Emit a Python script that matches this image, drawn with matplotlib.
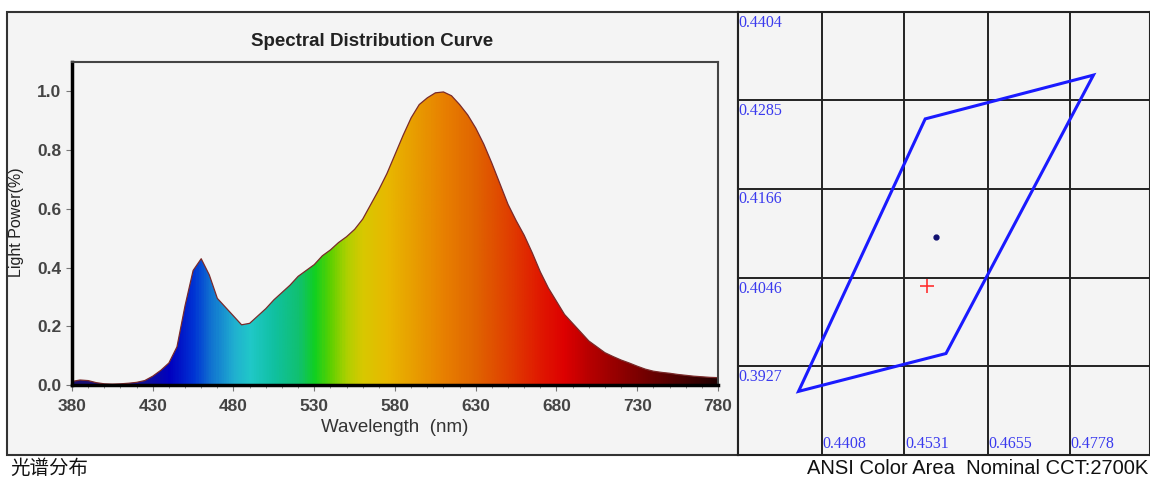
import numpy as np
import matplotlib
matplotlib.use("Agg")
import matplotlib.pyplot as plt
from matplotlib.colors import LinearSegmentedColormap
from matplotlib.patches import Polygon, Rectangle

plt.rcParams["font.family"] = ["Liberation Sans", "DejaVu Sans"]

# spectrum (5 nm steps)
wavelength = np.arange(380, 781, 5)
power = [0.012, 0.017, 0.015, 0.008, 0.004, 0.003, 0.004, 0.006, 0.009, 0.015,
         0.03, 0.05, 0.075, 0.13, 0.27, 0.39, 0.43, 0.375, 0.295, 0.265,
         0.235, 0.205, 0.21, 0.235, 0.26, 0.29, 0.315, 0.34, 0.37, 0.39,
         0.41, 0.44, 0.46, 0.485, 0.505, 0.53, 0.565, 0.615, 0.665, 0.72,
         0.785, 0.85, 0.91, 0.955, 0.978, 0.995, 0.998, 0.985, 0.955, 0.92,
         0.875, 0.82, 0.755, 0.685, 0.615, 0.56, 0.51, 0.45, 0.385, 0.33,
         0.285, 0.24, 0.21, 0.18, 0.15, 0.13, 0.11, 0.097, 0.085, 0.075,
         0.064, 0.054, 0.047, 0.043, 0.04, 0.036, 0.033, 0.03, 0.028, 0.026,
         0.025]
x_ticks = [380, 430, 480, 530, 580, 630, 680, 730, 780]
y_ticks = [0.0, 0.2, 0.4, 0.6, 0.8, 1.0]

# ANSI 2700K quadrangle (CIE x, y)
quad_x = [0.4813, 0.4562, 0.4373, 0.4593]
quad_y = [0.4319, 0.4260, 0.3893, 0.3944]
center_xy = (0.4578, 0.4101)
measured_xy = (0.4565, 0.4035)
cie_x_grid = [0.4408, 0.4531, 0.4655, 0.4778]
cie_y_grid = [0.4404, 0.4285, 0.4166, 0.4046, 0.3927]

# colour stops for the spectrum fill
stops = [(380, "#1c1070"), (425, "#10109a"), (440, "#0000c0"), (455, "#0034d4"),
         (465, "#1070d0"), (480, "#20b0d0"), (490, "#20c8c8"), (505, "#10c0a0"),
         (520, "#10c070"), (530, "#10d020"), (540, "#60d000"), (550, "#b0d000"),
         (560, "#d8c800"), (575, "#e8b800"), (590, "#e8a000"), (610, "#e88000"),
         (630, "#e06400"), (650, "#e04000"), (670, "#e01800"), (685, "#dd0000"),
         (700, "#b80000"), (720, "#900000"), (745, "#600000"), (780, "#200000")]
cmap = LinearSegmentedColormap.from_list(
    "spec", [((w - 380) / 400, c) for w, c in stops])

W, H = 1150, 480
fig = plt.figure(figsize=(11.5, 4.8), dpi=100)
fig.patch.set_facecolor("white")

# panel background
fig.patches.append(Rectangle((7 / W, 1 - 455 / H), (738 - 7) / W, (455 - 12) / H,
                             transform=fig.transFigure, facecolor="#f4f4f4",
                             edgecolor="#333333", lw=1.5, zorder=-5))

ax = fig.add_axes([72 / W, 1 - 385 / H, (718 - 72) / W, (385 - 62) / H])
ax.set_facecolor("#f4f4f4")
ax.set_xlim(380, 780)
ax.set_ylim(0, 1.1)

verts = [(380, 0)] + list(zip(wavelength, power)) + [(780, 0)]
poly = Polygon(verts, closed=True, facecolor="none", edgecolor="none")
ax.add_patch(poly)
grad = np.linspace(0, 1, 800).reshape(1, -1)
im = ax.imshow(grad, cmap=cmap, aspect="auto", extent=[380, 780, 0, 1.1],
               origin="lower", interpolation="bilinear", zorder=1)
im.set_clip_path(poly)
ax.plot(wavelength, power, color="#7a2a2a", lw=0.9, zorder=2,
        solid_joinstyle="round")

ax.set_xticks(x_ticks)
ax.set_xticks(np.arange(380, 781, 10), minor=True)
ax.set_yticks(y_ticks)
ax.set_yticklabels([f"{v:.1f}" for v in y_ticks])
ax.tick_params(axis="both", which="major", length=4, color="#777777",
               labelsize=12.5, labelcolor="#444444")
ax.tick_params(axis="x", which="major", pad=6)
ax.tick_params(axis="x", which="minor", length=2.5, color="#777777")
for lab in ax.get_xticklabels() + ax.get_yticklabels():
    lab.set_fontweight("bold")
ax.spines["left"].set_linewidth(2.5)
ax.spines["bottom"].set_linewidth(2.5)
ax.spines["top"].set_linewidth(1.5)
ax.spines["right"].set_linewidth(1.5)
ax.spines["top"].set_color("#444444")
ax.spines["right"].set_color("#444444")

fig.text(372 / W, 1 - 41 / H, "Spectral Distribution Curve", ha="center",
         va="center", fontsize=13.5, fontweight="bold", color="#222222")
fig.text(395 / W, 1 - 428 / H, "Wavelength  (nm)", ha="center", va="center",
         fontsize=13.5, color="#333333")
fig.text(17 / W, 1 - 222 / H, "Light Power(%)", ha="center", va="center",
         rotation=90, fontsize=11.5, color="#222222")

# CIE panel
ax2 = fig.add_axes([738 / W, 1 - 455 / H, (1150 - 738) / W, (455 - 12) / H])
ax2.set_facecolor("#f4f4f4")
ax2.set_xlim(0.42827, 0.48974)
ax2.set_ylim(0.38073, 0.4404)
ax2.set_xticks([])
ax2.set_yticks([])
for s in ax2.spines.values():
    s.set_color("#222222")
    s.set_linewidth(1.5)
for gx in cie_x_grid:
    ax2.axvline(gx, color="#222222", lw=1.4, zorder=1)
    ax2.annotate(f"{gx:.4f}", (gx, 0.38073), xytext=(0.5, 2),
                 textcoords="offset points", ha="left", va="bottom",
                 fontsize=11.5, color="#3a3aee", family="Liberation Serif")
for gy in cie_y_grid:
    ax2.annotate(f"{gy:.4f}", (0.42827, gy), xytext=(0.5, -2),
                 textcoords="offset points", ha="left", va="top",
                 fontsize=11.5, color="#3a3aee", family="Liberation Serif")
    ax2.axhline(gy, color="#222222", lw=1.4, zorder=1)

ax2.fill(quad_x, quad_y, facecolor="none", edgecolor="#1a1aff", lw=2.2, zorder=3)
ax2.plot(*center_xy, "o", color="#101070", ms=3.5, zorder=4)
ax2.plot(*measured_xy, "+", color="#ff3030", ms=10, mew=1.2, zorder=4)

fig.text(10 / W, 1 - 468 / H, "光谱分布", ha="left", va="center", fontsize=14,
         family=["Noto Sans CJK SC", "DejaVu Sans"], color="#111111")
fig.text(1148 / W, 1 - 469 / H, "ANSI Color Area  Nominal CCT:2700K",
         ha="right", va="center", fontsize=14.5, family="Liberation Sans",
         color="#111111")

fig.savefig("out.png", dpi=100)
